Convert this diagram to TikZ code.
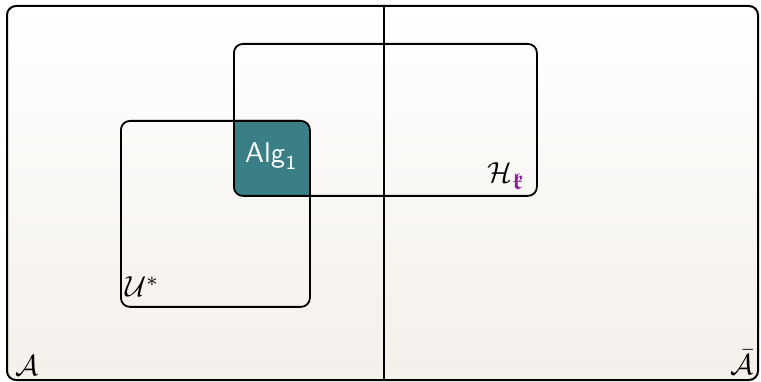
\documentclass[tikz,border=0pt]{standalone}
\usepackage{amsmath,amssymb,bm}
\definecolor{teal1}{HTML}{3A7F86}
\definecolor{kpurple}{HTML}{8E1B9C}
\definecolor{bgbeige}{HTML}{F4F0EA}
\newcommand{\bigtxt}[1]{\scalebox{2.9}{#1}}
\newcommand{\sftxt}[1]{\scalebox{2.85}{#1}}
\tikzset{
  frame/.style={draw=black, line width=2pt, rounded corners=9pt},
  setbox/.style={draw=black, line width=1.8pt, rounded corners=9pt},
  lbl/.style={inner sep=0pt},
}
\begin{document}
\begin{tikzpicture}[x=1pt,y=-1pt]
\useasboundingbox (0,0) rectangle (761,382);
% background
\shade[top color=white, bottom color=bgbeige, rounded corners=9pt] (6,5) rectangle (757,379);
% intersection fill
\begin{scope}
  \clip[rounded corners=9pt] (233,43) rectangle (536,195);
  \fill[teal1, rounded corners=9pt] (120,120) rectangle (309,306);
\end{scope}
\node[frame, minimum width=751pt, minimum height=374pt, anchor=north west, inner sep=0pt] (outer) at (6,5) {};
\coordinate (top) at (384,5);
\coordinate (bot) at (384,379);
\draw[line width=1.6pt] (top) -- (bot);
\node[setbox, minimum width=303pt, minimum height=152pt, anchor=north west, inner sep=0pt] (H) at (233,43) {};
\node[setbox, minimum width=189pt, minimum height=186pt, anchor=north west, inner sep=0pt] (U) at (120,120) {};
\node[lbl, text=white, anchor=base west] (alg) at (245,163) {\sftxt{$\mathsf{Alg}_{\mathsf{1}}$}};
\node[lbl, anchor=base west] (hk) at (487,183) {\bigtxt{$\mathcal{H}_{\color{kpurple}\scalebox{1.15}{$\scriptstyle\bm{\mathfrak{k}}$}}$}};
\node[lbl, anchor=base west] (ustar) at (125,297) {\bigtxt{$\mathcal{U}^{*}$}};
\node[lbl, anchor=base west] (a) at (15,375) {\bigtxt{$\mathcal{A}$}};
\node[lbl, anchor=base east] (abar) at (754,374) {\bigtxt{$\bar{\mathcal{A}}$}};
\end{tikzpicture}
\end{document}
